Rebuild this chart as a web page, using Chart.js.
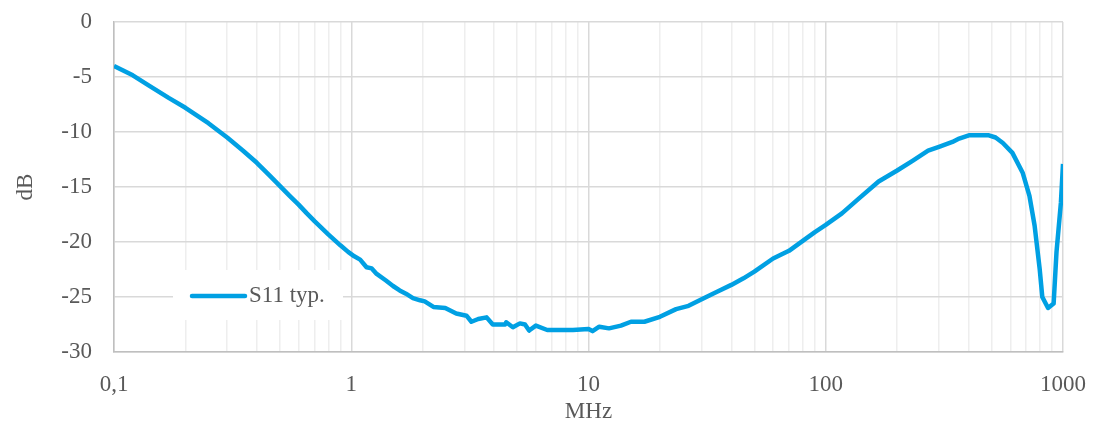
<!DOCTYPE html>
<html>
<head>
<meta charset="utf-8">
<script src="https://cdn.jsdelivr.net/npm/chart.js@4"></script>
<style>
  html, body { margin: 0; padding: 0; background: #fff; }
  #wrap { width: 1093px; height: 426px; }
</style>
</head>
<body>
<div id="wrap"><canvas id="s11"></canvas></div>
<script>
// S11 typ. (MHz, dB)
const frequencias = [
  0.1, 0.12, 0.141, 0.17, 0.2, 0.25, 0.3, 0.35, 0.4, 0.45, 0.5, 0.55, 0.6, 0.65, 0.7, 0.8, 0.9, 0.97,
  1.03, 1.09, 1.16, 1.22, 1.28, 1.4, 1.5, 1.6, 1.7, 1.82, 1.95, 2.04, 2.22, 2.49, 2.77, 3.06, 3.21, 3.43,
  3.72, 3.95, 4.45, 4.5, 4.8, 5.14, 5.4, 5.62, 6.0, 6.7, 7.5, 8.6,
  10, 10.4, 11.1, 12.2, 13.7, 15.1, 17.2, 20, 23.4, 26.4, 30, 35, 40, 45, 50, 60, 70, 80, 90,
  100, 117, 137, 167, 200, 233, 270, 300, 342, 365, 401, 487, 520, 558, 612, 676, 722, 759, 797,
  818, 865, 913, 939, 980, 1000
];
const s11 = [
  -4.0, -4.85, -5.8, -6.9, -7.8, -9.2, -10.5, -11.7, -12.8, -13.9, -14.9, -15.8, -16.6, -17.4, -18.1, -19.3, -20.3, -20.9,
  -21.3, -21.6, -22.3, -22.4, -22.9, -23.5, -24.0, -24.4, -24.7, -25.1, -25.3, -25.4, -25.9, -26.0, -26.5, -26.7, -27.25, -27.0,
  -26.85, -27.5, -27.5, -27.3, -27.75, -27.4, -27.5, -28.05, -27.6, -28.0, -28.0, -28.0,
  -27.9, -28.1, -27.7, -27.85, -27.6, -27.25, -27.25, -26.8, -26.1, -25.8, -25.2, -24.5, -23.9, -23.3, -22.7, -21.5, -20.8, -19.9, -19.1,
  -18.45, -17.4, -16.1, -14.5, -13.5, -12.6, -11.7, -11.35, -10.9, -10.6, -10.3, -10.3, -10.5, -11.0, -11.9, -13.7, -15.8, -18.5, -22.4,
  -25.0, -26.0, -25.6, -20.9, -16.4, -12.9
];

const decadas = [0.1, 1, 10, 100, 1000];
const rotulosX = ['0,1', '1', '10', '100', '1000'];

const FONTE = "'Liberation Serif', 'DejaVu Serif', serif";
const COR_TEXTO = '#595959';
const COR_LINHA = '#00A0E3';
const TAM = 23;

function ehDecada(v) {
  return decadas.some(d => Math.abs(v - d) < d * 1e-6);
}

// legenda dentro da área do gráfico, como no original
const legendaInterna = {
  id: 'legendaInterna',
  afterDatasetsDraw(chart) {
    const ctx = chart.ctx;
    const ds = chart.data.datasets[0];
    const x0 = 173, y0 = 270, w = 170, h = 50;
    ctx.save();
    ctx.fillStyle = '#ffffff';
    ctx.fillRect(x0, y0, w, h);
    ctx.strokeStyle = ds.borderColor;
    ctx.lineWidth = ds.borderWidth;
    ctx.lineCap = 'round';
    ctx.beginPath();
    ctx.moveTo(x0 + 19, y0 + 26);
    ctx.lineTo(x0 + 72, y0 + 26);
    ctx.stroke();
    ctx.fillStyle = COR_TEXTO;
    ctx.font = TAM + 'px ' + FONTE;
    ctx.textBaseline = 'middle';
    ctx.fillText(ds.label, x0 + 76, y0 + 26);
    ctx.restore();
  }
};

new Chart(document.getElementById('s11'), {
  type: 'line',
  data: {
    datasets: [{
      label: 'S11 typ.',
      data: frequencias.map((f, i) => ({ x: f, y: s11[i] })),
      borderColor: COR_LINHA,
      backgroundColor: COR_LINHA,
      borderWidth: 4.5,
      pointRadius: 0,
      tension: 0,
      borderJoinStyle: 'round'
    }]
  },
  options: {
    responsive: true,
    maintainAspectRatio: false,
    animation: false,
    layout: { padding: { top: 22, right: 30, left: 0, bottom: 0 } },
    plugins: {
      legend: { display: false },
      tooltip: { enabled: false }
    },
    scales: {
      x: {
        type: 'logarithmic',
        min: 0.1,
        max: 1000,
        afterFit(scale) {
          scale.height = 74;
          scale.paddingLeft = 0;
          scale.paddingRight = 0;
        },
        afterBuildTicks(scale) {
          const ticks = [];
          decadas.slice(0, -1).forEach(d => {
            for (let k = 1; k <= 9; k++) ticks.push({ value: d * k });
          });
          ticks.push({ value: 1000 });
          scale.ticks = ticks;
        },
        ticks: {
          autoSkip: false,
          maxRotation: 0,
          padding: 19,
          color: COR_TEXTO,
          font: { family: FONTE, size: TAM },
          callback(v) {
            const i = decadas.findIndex(d => Math.abs(v - d) < d * 1e-6);
            return i >= 0 ? rotulosX[i] : '';
          }
        },
        grid: {
          drawTicks: false,
          lineWidth: 1.5,
          color: c => (c.tick && ehDecada(c.tick.value)) ? '#d9d9d9' : '#eeeeee'
        },
        border: { color: '#bfbfbf', width: 1.5 },
        title: {
          display: true,
          text: 'MHz',
          color: COR_TEXTO,
          font: { family: FONTE, size: TAM },
          padding: { top: 0, bottom: 0 }
        }
      },
      y: {
        min: -30,
        max: 0,
        afterFit(scale) {
          scale.width = 114;
          scale.paddingTop = 0;
          scale.paddingBottom = 0;
        },
        ticks: {
          stepSize: 5,
          padding: 22,
          color: COR_TEXTO,
          font: { family: FONTE, size: TAM }
        },
        grid: { drawTicks: false, color: '#d9d9d9', lineWidth: 1.5 },
        border: { color: '#bfbfbf', width: 1.5 },
        title: {
          display: true,
          text: 'dB',
          color: COR_TEXTO,
          font: { family: FONTE, size: TAM },
          padding: { top: 12, bottom: 0 }
        }
      }
    }
  },
  plugins: [legendaInterna]
});
</script>
</body>
</html>
